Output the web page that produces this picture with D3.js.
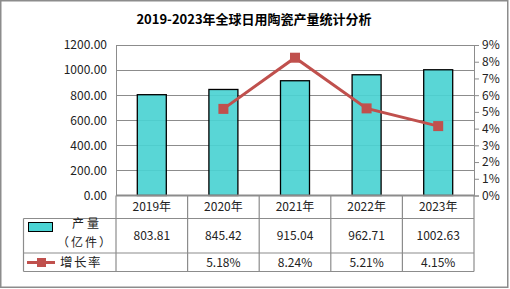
<!DOCTYPE html>
<html><head><meta charset="utf-8">
<script src="https://cdn.jsdelivr.net/npm/d3@7"></script>
<style>body{margin:0;background:#fff}svg{display:block}</style>
</head><body>
<script>
const title = "2019-2023年全球日用陶瓷产量统计分析";
const categories = ["2019年","2020年","2021年","2022年","2023年"];
const output = [803.81, 845.42, 915.04, 962.71, 1002.63];
const growth = [null, 5.18, 8.24, 5.21, 4.15];
const leftTicks = [0,200,400,600,800,1000,1200];
const rightTicks = [0,1,2,3,4,5,6,7,8,9];
const seriesNames = ["产量", "（亿件）", "增长率"];

const W = 510, H = 289;
const FONT = "'Noto Sans CJK SC', 'Noto Sans', sans-serif";
const svg = d3.select("body").append("svg").attr("width", W).attr("height", H);

svg.append("rect").attr("x",0.75).attr("y",0.75).attr("width",W-3).attr("height",H-2.5)
  .attr("fill","#fff").attr("stroke","#8c8c8c").attr("stroke-width",1.5);

svg.append("text").attr("x",254).attr("y",24).attr("text-anchor","middle")
  .attr("font-family",FONT).attr("font-weight","bold").attr("font-size",13).attr("fill","#000").text(title);

const L = 116, R = 474, T = 45, B = 195.5;
const x = d3.scaleBand().domain(categories).range([L,R]);
const yL = d3.scaleLinear().domain([0,1200]).range([B,T]);
const yR = d3.scaleLinear().domain([0,9]).range([B,T]);

// gridlines
svg.append("g").selectAll("line").data(leftTicks.slice(1)).join("line")
  .attr("x1",L).attr("x2",R).attr("y1",d=>Math.round(yL(d))+0.5).attr("y2",d=>Math.round(yL(d))+0.5)
  .attr("stroke","#8c8c8c").attr("stroke-width",1);

// left axis labels
const lg = svg.append("g").attr("transform",`translate(${L},0)`)
  .call(d3.axisLeft(yL).tickValues(leftTicks).tickFormat(d3.format(".2f")).tickSize(0).tickPadding(9));
lg.select(".domain").attr("stroke","#8c8c8c");
lg.selectAll("text").attr("font-family",FONT).attr("font-size",12).attr("fill","#222");

// right axis
const rg = svg.append("g").attr("transform",`translate(${R},0)`)
  .call(d3.axisRight(yR).tickValues(rightTicks).tickFormat(d=>d+"%").tickSize(5).tickPadding(3));
rg.select(".domain").attr("stroke","#8c8c8c");
rg.selectAll(".tick line").attr("stroke","#8c8c8c");
rg.selectAll("text").attr("font-family",FONT).attr("font-size",12).attr("fill","#222");

// bars
const bw = 29;
svg.append("g").selectAll("rect").data(output).join("rect")
  .attr("x",(d,i)=>x(categories[i])+x.bandwidth()/2-bw/2)
  .attr("y",d=>yL(d)).attr("width",bw).attr("height",d=>B-yL(d))
  .attr("fill","#4bd3d3").attr("fill-opacity",0.92).attr("stroke","#000").attr("stroke-width",1.3);

// bottom axis line
svg.append("line").attr("x1",L).attr("x2",R).attr("y1",B).attr("y2",B)
  .attr("stroke","#8c8c8c").attr("stroke-width",2);

// growth line
const pts = growth.map((g,i)=>({g,c:categories[i]})).filter(p=>p.g!==null);
const line = d3.line().x(p=>x(p.c)+x.bandwidth()/2).y(p=>yR(p.g));
svg.append("path").datum(pts).attr("d",line).attr("fill","none")
  .attr("stroke","#c0504d").attr("stroke-width",3);
const ms = 10;
svg.append("g").selectAll("rect").data(pts).join("rect")
  .attr("x",p=>x(p.c)+x.bandwidth()/2-ms/2).attr("y",p=>yR(p.g)-ms/2)
  .attr("width",ms).attr("height",ms).attr("fill","#c0504d");

// data table
const r1 = 218.5, r2 = 253, r3 = 271.5, TL = 23.5;
const tbl = svg.append("g").attr("stroke","#8c8c8c").attr("stroke-width",1.2);
[r1,r2,r3].forEach(y=>tbl.append("line").attr("x1",TL).attr("x2",R).attr("y1",y).attr("y2",y));
tbl.append("line").attr("x1",TL).attr("x2",TL).attr("y1",r1).attr("y2",r3);
const bounds = categories.map(c=>x(c)).concat([R]);
tbl.selectAll("line.v").data(bounds).join("line").attr("class","v")
  .attr("x1",d=>d).attr("x2",d=>d).attr("y1",B).attr("y2",r3);

const tt = svg.append("g").attr("font-family",FONT).attr("font-size",12).attr("fill","#222").attr("text-anchor","middle");
categories.forEach((c,i)=>{
  const cx = x(c)+x.bandwidth()/2;
  tt.append("text").attr("x",cx).attr("y",211).text(c);
  tt.append("text").attr("x",cx).attr("y",240).text(output[i].toFixed(2));
  if (growth[i]!==null) tt.append("text").attr("x",cx).attr("y",267).text(growth[i].toFixed(2)+"%");
});

// legend
svg.append("rect").attr("x",28.5).attr("y",222.5).attr("width",24).attr("height",9)
  .attr("fill","#4bd3d3").attr("stroke","#000").attr("stroke-width",1);
svg.append("text").attr("x",87).attr("y",228).attr("text-anchor","middle")
  .attr("font-family",FONT).attr("font-size",12).attr("fill","#222").attr("letter-spacing",3).text(seriesNames[0]);
svg.append("text").attr("x",85).attr("y",247).attr("text-anchor","middle")
  .attr("font-family",FONT).attr("font-size",12).attr("fill","#222").attr("letter-spacing",2).text(seriesNames[1]);
svg.append("line").attr("x1",27).attr("x2",55).attr("y1",262.5).attr("y2",262.5)
  .attr("stroke","#c0504d").attr("stroke-width",3);
svg.append("rect").attr("x",37).attr("y",258).attr("width",9).attr("height",9).attr("fill","#c0504d");
svg.append("text").attr("x",60).attr("y",267).attr("font-family",FONT).attr("font-size",12.5)
  .attr("fill","#222").attr("letter-spacing",1.5).text(seriesNames[2]);
</script>
</body></html>
